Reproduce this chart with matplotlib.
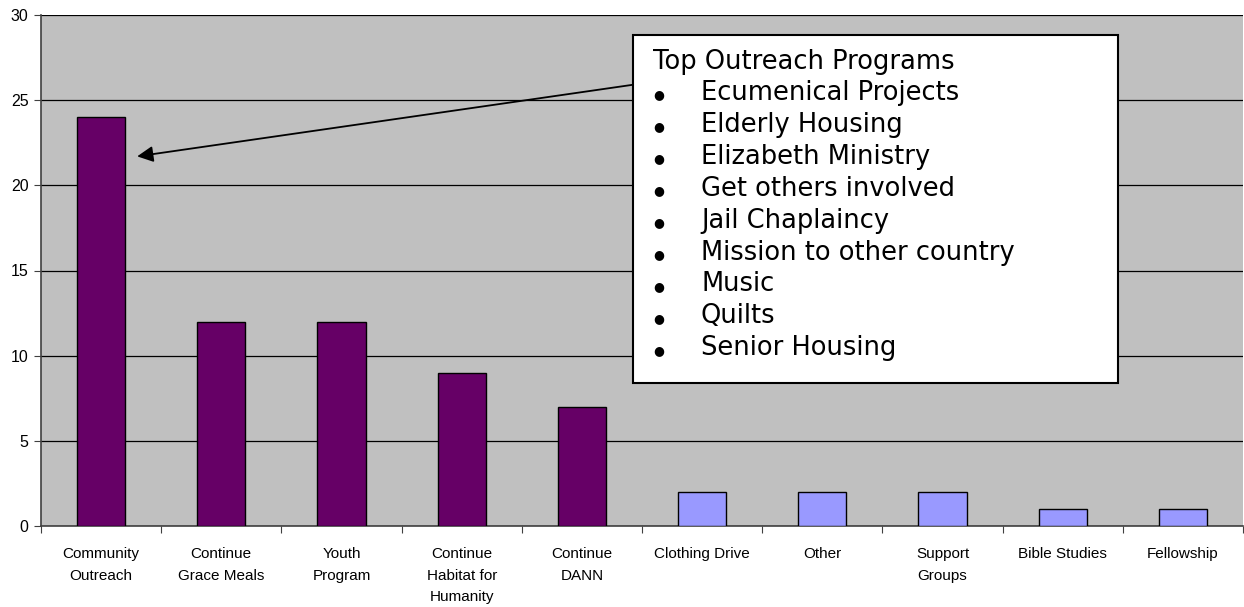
import numpy as np
import matplotlib
matplotlib.use("Agg")
import matplotlib.pyplot as plt
from matplotlib.patches import Rectangle

categories = ["Community\nOutreach", "Continue\nGrace Meals", "Youth\nProgram",
              "Continue\nHabitat for\nHumanity", "Continue\nDANN", "Clothing Drive",
              "Other", "Support\nGroups", "Bible Studies", "Fellowship"]
values = [24, 12, 12, 9, 7, 2, 2, 2, 1, 1]
top_n = 5
programs = ["Ecumenical Projects", "Elderly Housing", "Elizabeth Ministry",
            "Get others involved", "Jail Chaplaincy", "Mission to other country",
            "Music", "Quilts", "Senior Housing"]

W, H = 1244, 607
fig = plt.figure(figsize=(W / 100, H / 100), dpi=100)
ax = fig.add_axes([41 / W, 1 - 526 / H, 1202 / W, 511 / H])
ax.set_facecolor("#C0C0C0")

x = np.arange(len(values))
colors = ["#660066" if i < top_n else "#9999FF" for i in range(len(values))]
ax.bar(x, values, width=0.4, color=colors, edgecolor="black", linewidth=1, zorder=3)

ax.set_xlim(-0.5, len(values) - 0.5)
ax.set_ylim(0, 30)
ax.set_yticks(range(0, 31, 5))
ax.yaxis.grid(True, color="black", linewidth=0.9, zorder=1)
ax.set_axisbelow(True)

ax.set_xticks(np.arange(len(values) + 1) - 0.5)
ax.set_xticklabels([])
ax.set_xticks(x, minor=True)
ax.set_xticklabels(categories, minor=True, fontfamily="Liberation Sans",
                   fontsize=11, linespacing=1.7, va="top")
ax.tick_params(axis="x", which="minor", length=0, pad=15)
ax.tick_params(axis="x", which="major", length=5, direction="out", color="#404040")
ax.tick_params(axis="y", length=5, direction="out", color="#404040",
               labelsize=11.5, pad=4)
for lab in ax.get_yticklabels():
    lab.set_fontfamily("Liberation Sans")

for s in ["top", "right"]:
    ax.spines[s].set_visible(False)
for s in ["left", "bottom"]:
    ax.spines[s].set_color("#404040")
    ax.spines[s].set_linewidth(1.2)

# callout box
def fx(px):
    return px / W

def fy(py):
    return 1 - py / H

box = Rectangle((fx(633), fy(383)), fx(1118) - fx(633), fy(35) - fy(383),
                transform=fig.transFigure, facecolor="white", edgecolor="black",
                linewidth=1.5, zorder=10)
fig.patches.append(box)

fs = 18.5
fig.text(fx(653), fy(62), "Top Outreach Programs", fontsize=fs,
         va="center", ha="left", zorder=11)
for i, p in enumerate(programs):
    yy = fy(93 + i * 31.9)
    fig.text(fx(659), fy(95 + i * 31.9), "\u25CF", fontsize=9, va="center",
             ha="center", zorder=11)
    fig.text(fx(701), yy, p, fontsize=fs, va="center", ha="left", zorder=11)

# arrow from the box to the first bar
ax.annotate("", xy=(0.3, 21.7), xytext=(4.42, 25.9),
            arrowprops=dict(arrowstyle="-|>", color="black", lw=1.3,
                            mutation_scale=24, shrinkA=0, shrinkB=0),
            zorder=9)

fig.savefig("out.png", dpi=100)
